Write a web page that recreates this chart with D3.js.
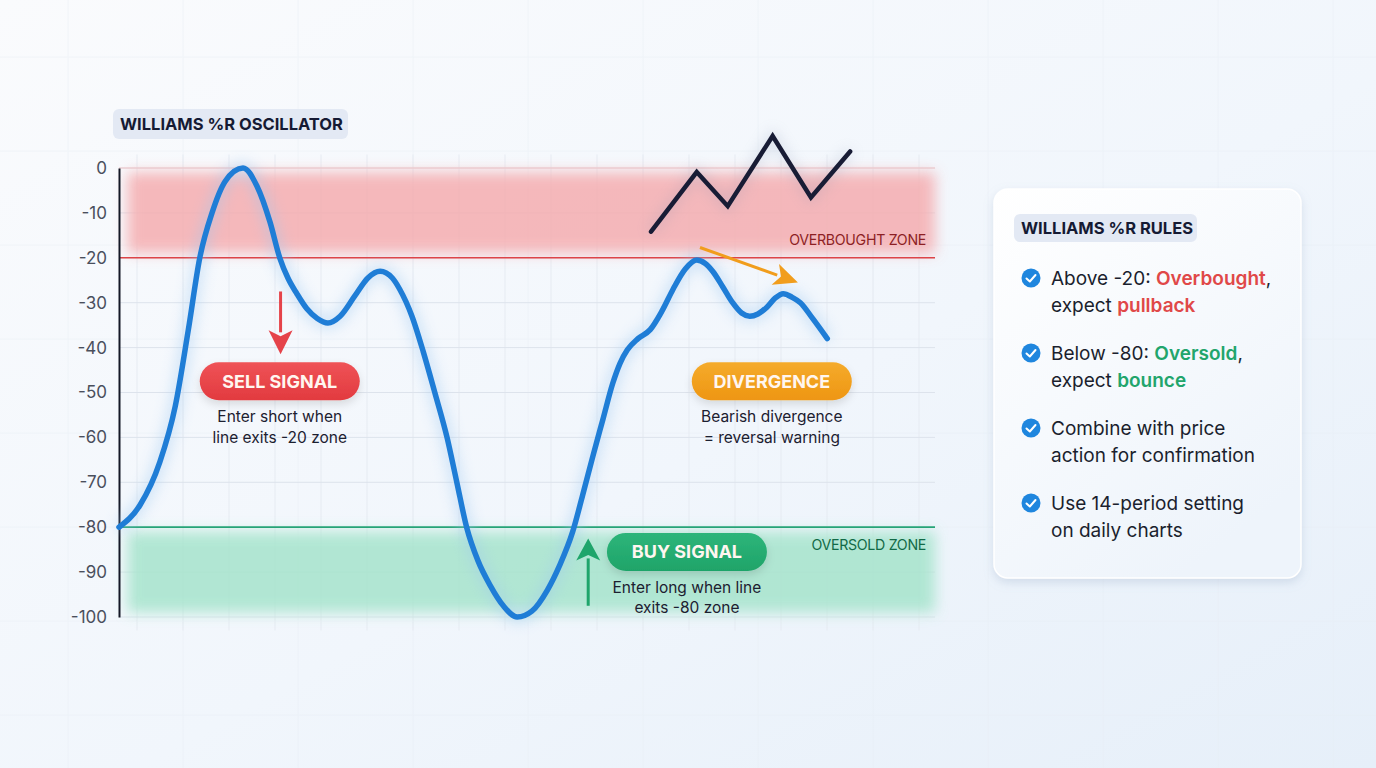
<!DOCTYPE html>
<html><head><meta charset="utf-8">
<script src="https://cdn.jsdelivr.net/npm/d3@7"></script>
<style>
html,body{margin:0;padding:0;background:#f4f7fb;}
svg{display:block;font-family:Inter,"Open Sans",sans-serif;}
</style></head><body>
<svg id="c" width="1376" height="768"></svg>
<script>
// ---------- DATA ----------
const yTicks = [0,-10,-20,-30,-40,-50,-60,-70,-80,-90,-100];
const periods = [0,2.6,5.0,6.9,8.5,9.9,11.4,13.0,15.2,16.9,18.5,19.7,20.7,21.8,23.0,24.3,25.6,27.1,28.9,30.5,32.0,33.5,34.4,35.9,37.3,38.7,40.2,41.4,42.6,44.0,45.5,47.1,48.8,50.6,52.5,54.0,55.6,56.8,58.1,59.3,60.5,61.4,62.3,63.6,65.1,66.5,67.9,69.4,70.8,71.8,72.8,74.0,75.2,76.3,77.3,78.3,79.4,80.4,81.4,82.5,83.5,85.0,86.8];
const wr =      [-80,-75,-65.5,-53,-36,-20,-10,-3,0,-4,-12,-20,-24.5,-28,-31.3,-33.5,-34.5,-33,-28.5,-24.5,-23,-24.5,-27,-33,-41,-50,-60,-70,-80,-87.5,-93,-97.5,-100,-98.7,-94,-88.5,-81,-73,-64,-56,-48,-43.5,-40.5,-38,-36,-32,-27,-22.5,-20.5,-21.2,-23.1,-26.5,-30,-32.3,-33,-32.5,-31,-29,-28,-28.8,-30,-33.5,-38];
const pricePeriods = [65.2,70.8,74.6,80.1,84.8,89.6];
const price = [103,115.4,108.3,122.9,110.1,119.7];
const levels = {overbought:-20, oversold:-80};
const rules = [
  [["Above -20: ","#1b1f2e"],["Overbought","#e04848"],[",","#1b1f2e"]],
  [["expect ","#1b1f2e"],["pullback","#e04848"]],
  [["Below -80: ","#1b1f2e"],["Oversold","#22a56c"],[",","#1b1f2e"]],
  [["expect ","#1b1f2e"],["bounce","#22a56c"]],
  [["Combine with price","#1b1f2e"]],
  [["action for confirmation","#1b1f2e"]],
  [["Use 14-period setting","#1b1f2e"]],
  [["on daily charts","#1b1f2e"]]
];

// ---------- SETUP ----------
const svg = d3.select("#c");
const W=1376,H=768;
const x = d3.scaleLinear().domain([0,100]).range([119,935]);
const y = d3.scaleLinear().domain([-100,0]).range([617,168]);
const py = d3.scaleLinear().domain([100,125]).range([246,126]);

const defs = svg.append("defs");
const bg = defs.append("linearGradient").attr("id","bg").attr("x1","0").attr("y1","0").attr("x2","1").attr("y2","1");
bg.append("stop").attr("offset","0").attr("stop-color","#fafbfd");
bg.append("stop").attr("offset","0.55").attr("stop-color","#f1f6fc");
bg.append("stop").attr("offset","1").attr("stop-color","#e6eff9");
defs.append("filter").attr("id","blur").attr("x","-10%").attr("y","-30%").attr("width","120%").attr("height","160%")
  .append("feGaussianBlur").attr("stdDeviation",7);
const sh = defs.append("filter").attr("id","shadow").attr("x","-20%").attr("y","-20%").attr("width","140%").attr("height","160%");
sh.append("feDropShadow").attr("dx",0).attr("dy",4).attr("stdDeviation",5).attr("flood-color","#8aa0c0").attr("flood-opacity",0.28);
const sh2 = defs.append("filter").attr("id","pillshadow").attr("x","-20%").attr("y","-40%").attr("width","140%").attr("height","200%");
sh2.append("feDropShadow").attr("dx",0).attr("dy",4).attr("stdDeviation",4).attr("flood-color","#000").attr("flood-opacity",0.12);
const card = defs.append("linearGradient").attr("id","card").attr("x1","0").attr("y1","0").attr("x2","0.6").attr("y2","1");
card.append("stop").attr("offset","0").attr("stop-color","#ffffff");
card.append("stop").attr("offset","1").attr("stop-color","#eef4fb");

svg.append("rect").attr("width",W).attr("height",H).attr("fill","url(#bg)");

// page background grid (very faint)
const bgG = svg.append("g").attr("stroke","#e6ecf3").attr("stroke-width",1).attr("opacity",0.45);
bgG.selectAll("line.v").data(d3.range(68,W,115)).join("line")
  .attr("x1",d=>d).attr("x2",d=>d).attr("y1",0).attr("y2",H);
bgG.selectAll("line.h").data(d3.range(57,H,94)).join("line")
  .attr("x1",0).attr("x2",W).attr("y1",d=>d).attr("y2",d=>d);

// plot grid
const grid = svg.append("g");
grid.selectAll("line.v").data(d3.range(137,935,46)).join("line")
  .attr("x1",d=>d).attr("x2",d=>d).attr("y1",y(3)).attr("y2",y(-103))
  .attr("stroke","#e6ebf2").attr("stroke-width",1);
grid.selectAll("line.h").data(yTicks).join("line")
  .attr("x1",x(0)).attr("x2",x(100)).attr("y1",d=>y(d)).attr("y2",d=>y(d))
  .attr("stroke","#dde3ec").attr("stroke-width",1);

// zones
svg.append("rect").attr("x",x(1)).attr("y",y(-1)).attr("width",x(100)-x(1)).attr("height",y(-19)-y(-1))
  .attr("fill","#f5adb0").attr("opacity",0.85).attr("filter","url(#blur)");
svg.append("rect").attr("x",x(1)).attr("y",y(-81)).attr("width",x(100)-x(1)).attr("height",y(-99)-y(-81))
  .attr("fill","#a6e4cc").attr("opacity",0.85).attr("filter","url(#blur)");
svg.append("line").attr("x1",x(0)).attr("x2",x(100)).attr("y1",y(0)).attr("y2",y(0)).attr("stroke","#f0c4c6").attr("stroke-width",1);
svg.append("line").attr("x1",x(0)).attr("x2",x(100)).attr("y1",y(levels.overbought)).attr("y2",y(levels.overbought))
  .attr("stroke","#dd4448").attr("stroke-width",1.6);
svg.append("line").attr("x1",x(0)).attr("x2",x(100)).attr("y1",y(levels.oversold)).attr("y2",y(levels.oversold))
  .attr("stroke","#26a477").attr("stroke-width",1.8);
svg.append("text").attr("x",x(98.9)).attr("y",y(-17.2)).attr("text-anchor","end")
  .attr("font-size",14.2).attr("fill","#8c1f24").attr("letter-spacing","-0.3").text("OVERBOUGHT ZONE");
svg.append("text").attr("x",x(98.9)).attr("y",y(-85.1)).attr("text-anchor","end")
  .attr("font-size",14.2).attr("fill","#126a47").attr("letter-spacing","-0.3").text("OVERSOLD ZONE");

// axis
const axis = d3.axisLeft(y).tickValues(yTicks).tickSize(0).tickPadding(12).tickFormat(d=>String(d));
const ag = svg.append("g").attr("transform",`translate(${x(0)},0)`).call(axis);
ag.select(".domain").attr("stroke","#141826").attr("stroke-width",2);
ag.selectAll("text").attr("font-size",17).attr("fill","#4a4f5c").attr("font-family","Inter,sans-serif");

// title pill
const tg = svg.append("g");
tg.append("rect").attr("x",113).attr("y",109).attr("width",235).attr("height",30).attr("rx",6).attr("fill","#e3e9f4");
tg.append("text").attr("x",120).attr("y",130).attr("font-size",16.5).attr("font-weight",700).attr("fill","#151a33").text("WILLIAMS %R OSCILLATOR");

// main line
const pts = periods.map((p,i)=>[p,wr[i]]);
const line = d3.line().x(d=>x(d[0])).y(d=>y(d[1])).curve(d3.curveMonotoneX);
svg.append("path").attr("d",line(pts)).attr("fill","none").attr("stroke","#9cc8f0").attr("stroke-width",12)
  .attr("opacity",0.45).attr("filter","url(#blur)");
svg.append("path").attr("d",line(pts)).attr("fill","none").attr("stroke","#1f7dd6").attr("stroke-width",5.5)
  .attr("stroke-linecap","round").attr("stroke-linejoin","round");

// price line
const pline = d3.line().x((d,i)=>x(pricePeriods[i])).y(d=>py(d));
svg.append("path").attr("d",pline(price)).attr("fill","none").attr("stroke","#8090b0").attr("stroke-width",8)
  .attr("opacity",0.25).attr("filter","url(#blur)");
svg.append("path").attr("d",pline(price)).attr("fill","none").attr("stroke","#181c35").attr("stroke-width",4.5)
  .attr("stroke-linecap","round").attr("stroke-linejoin","miter");

// arrows
function arrow(x1,y1,x2,y2,color,w,hl,hw){
  const a=Math.atan2(y2-y1,x2-x1), ux=Math.cos(a), uy=Math.sin(a);
  const bx=x2-ux*hl, by=y2-uy*hl;
  svg.append("line").attr("x1",x1).attr("y1",y1).attr("x2",bx+ux*2).attr("y2",by+uy*2).attr("stroke",color).attr("stroke-width",w);
  svg.append("path").attr("d",`M${x2},${y2}L${bx-uy*hw/2},${by+ux*hw/2}L${bx+ux*hl*0.25},${by+uy*hl*0.25}L${bx+uy*hw/2},${by-ux*hw/2}Z`).attr("fill",color);
}
arrow(x(19.8),y(-27.5),x(19.8),y(-41.5),"#e5434a",3,24,24);
arrow(x(57.5),y(-97.5),x(57.5),y(-82.5),"#1fa56b",3,22,24);
arrow(x(71.2),y(-17.7),x(83.2),y(-25.5),"#f19d1c",3,24,22);

// pills
function pill(cx,cy,label,c1,c2,sub){
  const g=svg.append("g");
  const gid="pg"+label.replace(/\s/g,"");
  const lg=defs.append("linearGradient").attr("id",gid).attr("x1",0).attr("x2",0).attr("y1",0).attr("y2",1);
  lg.append("stop").attr("offset",0).attr("stop-color",c1); lg.append("stop").attr("offset",1).attr("stop-color",c2);
  g.append("rect").attr("x",cx-80).attr("y",cy-19).attr("width",160).attr("height",38).attr("rx",19)
    .attr("fill",`url(#${gid})`).attr("filter","url(#pillshadow)");
  g.append("text").attr("x",cx).attr("y",cy+6.5).attr("text-anchor","middle").attr("font-size",18).attr("font-weight",700)
    .attr("fill","#fff6f0").text(label);
  sub.forEach((s,i)=>{
    g.append("text").attr("x",cx).attr("y",cy+41+i*20.5).attr("text-anchor","middle").attr("font-size",15.5)
      .attr("fill","#1c2030").text(s);
  });
}
pill(x(19.7),y(-47.5),"SELL SIGNAL","#ef5357","#e23a3f",["Enter short when","line exits -20 zone"]);
pill(x(80.0),y(-47.5),"DIVERGENCE","#f5ab2c","#ee9612",["Bearish divergence","= reversal warning"]);
pill(x(69.6),y(-85.5),"BUY SIGNAL","#2db57a","#1fa469",["Enter long when line","exits -80 zone"]);

// rules card
const cg = svg.append("g");
cg.append("rect").attr("x",994).attr("y",189).attr("width",307).attr("height",389).attr("rx",14)
  .attr("fill","url(#card)").attr("stroke","#ffffff").attr("stroke-width",1.5).attr("filter","url(#shadow)");
cg.append("rect").attr("x",1014).attr("y",214).attr("width",183).attr("height",28).attr("rx",6).attr("fill","#e3e9f4");
cg.append("text").attr("x",1021).attr("y",234).attr("font-size",16.5).attr("font-weight",700).attr("fill","#151a33").text("WILLIAMS %R RULES");
const rowY=[278,305,353,380,428,455,503,530];
rules.forEach((parts,i)=>{
  const t=cg.append("text").attr("x",1051).attr("y",rowY[i]+6.5).attr("font-size",19).attr("fill","#1b1f2e");
  parts.forEach(p=>{
    t.append("tspan").attr("fill",p[1]).attr("font-weight",(p[1]==="#1b1f2e")?400:600).text(p[0]);
  });
  if(i%2===0){
    cg.append("circle").attr("cx",1031).attr("cy",rowY[i]).attr("r",9.5).attr("fill","#1f86de");
    cg.append("path").attr("d",`M${1026.5},${rowY[i]+0.5}L${1029.8},${rowY[i]+3.5}L${1035.5},${rowY[i]-3}`)
      .attr("fill","none").attr("stroke","#fff").attr("stroke-width",2).attr("stroke-linecap","round").attr("stroke-linejoin","round");
  }
});
</script>
</body></html>
